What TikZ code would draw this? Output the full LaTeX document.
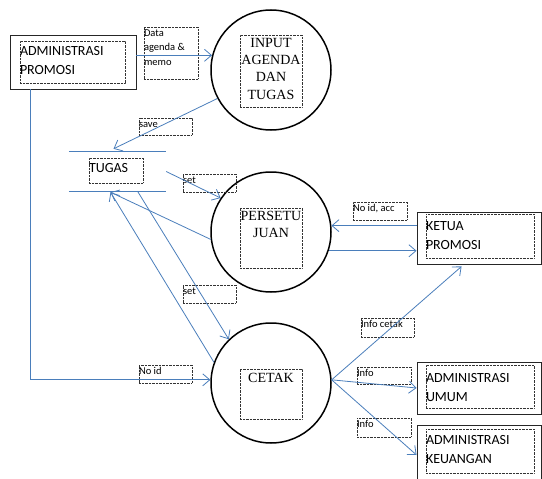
\documentclass[tikz,border=0pt]{standalone}
\usepackage{fontspec}
\setmainfont{Carlito}
\newfontfamily\serifproc{Liberation Serif}
\usetikzlibrary{arrows.meta}
\usetikzlibrary{calc}
\definecolor{flowblue}{RGB}{74,126,187}
\tikzset{>={Straight Barb[length=7pt,width=12pt]}}
\tikzset{proc/.style={circle,draw=black,line width=1.5pt,minimum size=120pt,inner sep=0pt}}
\tikzset{ent/.style={rectangle,draw=black!85,line width=0.9pt,minimum width=124pt,minimum height=52pt,inner sep=0pt}}
\tikzset{dotbox/.style={rectangle,draw=black!80,line width=0.6pt,dash pattern=on 0.7pt off 0.7pt,inner sep=0pt}}
\tikzset{flow/.style={->,draw=flowblue,line width=0.8pt}}
\tikzset{lbl/.style={dotbox,font=\fontsize{10.5}{14.5}\selectfont}}
\tikzset{etx/.style={dotbox,font=\fontsize{14}{19.5}\selectfont}}
\tikzset{ptx/.style={dotbox,font=\serifproc\fontsize{14}{17.5}\selectfont}}
\newcommand{\ltext}[4]{\parbox[c][#2pt][t]{#1pt}{\raggedright\rule{0pt}{#3pt}#4}}
\newcommand{\ctext}[4]{\parbox[c][#2pt][t]{#1pt}{\centering\rule{0pt}{#3pt}#4}}

\begin{document}
\begin{tikzpicture}[x=1pt,y=-1pt]
\clip (0,0) rectangle (542,479);

\node[ent,minimum width=126pt,minimum height=54pt] (adm) at (73,62) {};
\node[etx] (admT) at (72.5,62) {\ltext{105}{42}{14}{ADMINISTRASI\\PROMOSI}};
\node[ent] (ket) at (479,238) {};
\node[etx] (ketT) at (480,236) {\ltext{108}{44}{16}{KETUA\\PROMOSI}};
\node[ent] (umum) at (479,388) {};
\node[etx] (umumT) at (480,386.5) {\ltext{108}{43}{17}{ADMINISTRASI\\UMUM}};
\node[ent,minimum height=60pt] (keu) at (479,455) {};
\node[etx] (keuT) at (480,451) {\ltext{108}{44}{15}{ADMINISTRASI\\KEUANGAN}};

\node[proc] (inp) at (271,70) {};
\node[ptx] (inpT) at (271,71) {\ctext{62}{72}{12}{INPUT\\AGENDA\\DAN\\TUGAS}};
\node[proc] (setj) at (271,232) {};
\node[ptx] (setjT) at (271,238) {\ctext{62}{60}{12}{PERSETU\\JUAN}};
\node[proc] (ctk) at (271,383) {};
\node[ptx] (ctkT) at (271,394) {\ctext{62}{50}{13}{CETAK}};

\node[minimum width=97pt,minimum height=39pt,inner sep=0pt] (tgs) at (117.5,171.5) {};
\draw[flowblue,line width=0.8pt] (tgs.north west) -- (tgs.north east) (tgs.south west) -- (tgs.south east);
\node[etx] (tgsT) at (116,170.5) {\ltext{54}{25}{14}{TUGAS}};

\node[lbl] (lData) at (171,53) {\ltext{54}{52}{9}{Data\\agenda \&\\memo}};
\node[lbl] (lSave) at (165.5,126.5) {\ltext{53}{17}{9}{save}};
\node[lbl] (lSet1) at (209.5,183) {\ltext{53}{18}{9}{set}};
\node[lbl] (lSet2) at (209.5,294) {\ltext{53}{18}{9}{set}};
\node[lbl] (lAcc) at (380,211) {\ltext{54}{18}{9}{No id, acc}};
\node[lbl] (lCetak) at (387.5,327.5) {\ltext{53}{19}{9}{Info cetak}};
\node[lbl] (lInfo1) at (384,375.5) {\ltext{54}{17}{9}{Info}};
\node[lbl] (lInfo2) at (384,427.5) {\ltext{54}{19}{9}{Info}};
\node[lbl] (lNoid) at (165.5,374) {\ltext{53}{18}{9}{No id}};

\draw[flow] (inp.166 -| adm.east) -- (inp.166);
\draw[flow] (inp.208) -- ($(tgs.north)+(-4,-3)$);
\draw[flow] (tgs.east) -- (setj.146);
\draw[flow] (setj.187) -- ($(tgs.south)+(-7,1)$);
\draw[flow] (ctk.160) -- ($(tgs.south)+(-7,1)$);
\draw[flow] ($(tgs.south)+(20,0)$) -- (ctk.134);
\draw[flow] ($(adm.south west)+(21,0)$) |- (ctk.177);
\draw[flow] (ket.west |- setj.6) -- (setj.6);
\draw[flow] (setj.-18) -- (setj.-18 -| ket.west);
\draw[flow] (ctk.3) -- ($(ket.south west)+(45,2)$);
\draw[flow] (ctk.3) -- (umum.west);
\draw[flow] (ctk.3) -- (keu.west);
\end{tikzpicture}
\end{document}
